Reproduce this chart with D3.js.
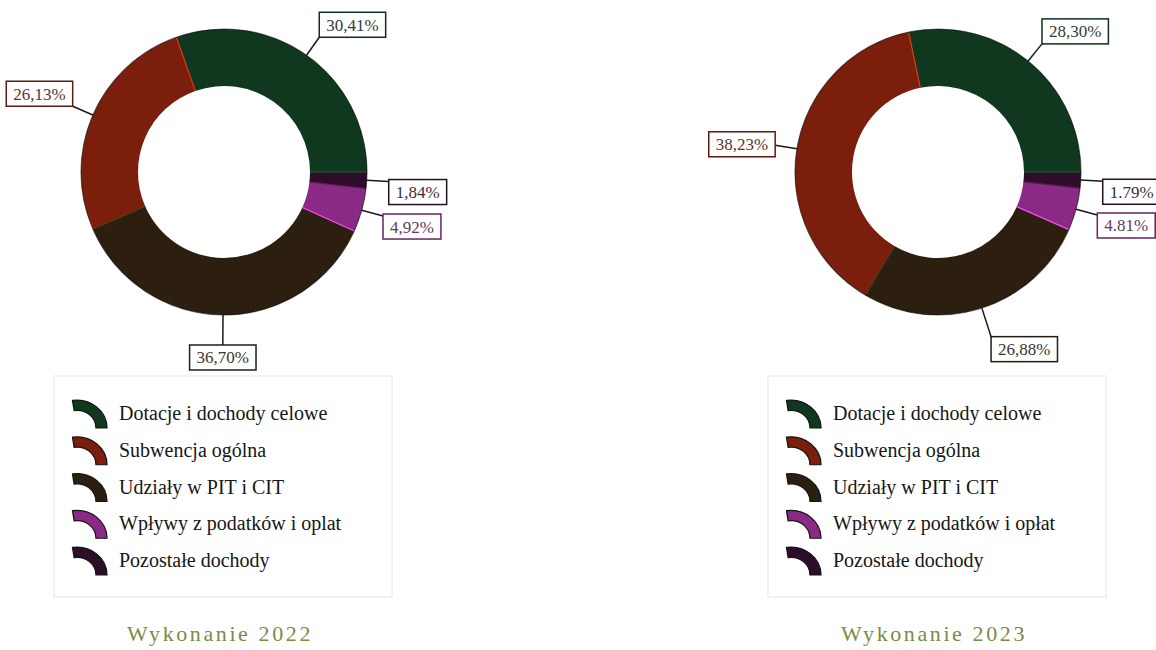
<!DOCTYPE html>
<html>
<head>
<meta charset="utf-8">
<script src="https://cdn.jsdelivr.net/npm/d3@7"></script>
<style>
  body { margin: 0; background: #fff; }
  svg { display: block; }
</style>
</head>
<body>
<div id="chart"></div>
<script>
// dane
var categories2022 = ["Dotacje i dochody celowe", "Subwencja ogólna", "Udziały w PIT i CIT", "Wpływy z podatków i oplat", "Pozostałe dochody"];
var categories2023 = ["Dotacje i dochody celowe", "Subwencja ogólna", "Udziały w PIT i CIT", "Wpływy z podatków i opłat", "Pozostałe dochody"];
var values2022 = [30.41, 26.13, 36.70, 4.92, 1.84];
var values2023 = [28.30, 38.23, 26.88, 4.81, 1.79];
var labels2022 = ["30,41%", "26,13%", "36,70%", "4,92%", "1,84%"];
var labels2023 = ["28,30%", "38,23%", "26,88%", "4.81%", "1.79%"];
var titles = ["Wykonanie 2022", "Wykonanie 2023"];
var colors = ["#10381f", "#7b1f0c", "#2d1f10", "#8b2a86", "#2e0d2b"];

var W = 1156, H = 650;
var cfg = { cy: 172, R: 143, r: 86, leaderR: 165, serif: "'Liberation Serif', 'Times New Roman', serif" };

var svg = d3.select("#chart").append("svg")
  .attr("width", W).attr("height", H);

var panels = [
  { cx: 224, cats: categories2022, vals: values2022, labels: labels2022, title: titles[0] },
  { cx: 938, cats: categories2023, vals: values2023, labels: labels2023, title: titles[1] }
];

// torty zaczynaja sie na godzinie 3 i ida przeciwnie do wskazowek zegara
var pie = d3.pie().sort(null)
  .startAngle(Math.PI / 2)
  .endAngle(Math.PI / 2 - 2 * Math.PI);

var arc = d3.arc().innerRadius(cfg.r).outerRadius(cfg.R);
// znaczek legendy: cwiartka pierscienia od 12 do 3
var swatchArc = d3.arc().innerRadius(19).outerRadius(30).startAngle(-0.15).endAngle(Math.PI / 2);

panels.forEach(function(p) {
  var g = svg.append("g").attr("transform", "translate(" + p.cx + "," + cfg.cy + ")");
  var arcs = pie(p.vals);

  g.selectAll("path.slice")
    .data(arcs)
    .enter()
    .append("path")
    .attr("class", "slice")
    .attr("d", arc)
    .attr("fill", function(d, i) { return colors[i]; });

  // jasne linie na granicach wycinkow
  g.selectAll("line.sep")
    .data(arcs)
    .enter()
    .append("line")
    .attr("x1", function(d) { return cfg.r * Math.sin(d.startAngle); })
    .attr("y1", function(d) { return -cfg.r * Math.cos(d.startAngle); })
    .attr("x2", function(d) { return cfg.R * Math.sin(d.startAngle); })
    .attr("y2", function(d) { return -cfg.R * Math.cos(d.startAngle); })
    .attr("stroke", function(d, i) { return d3.color(colors[i]).brighter(1.6); })
    .attr("stroke-width", 1.2);

  g.append("circle")
    .attr("r", cfg.R)
    .attr("fill", "none")
    .attr("stroke", "rgba(0,0,0,0.55)")
    .attr("stroke-width", 1.2);

  // etykiety z odnosnikami
  arcs.forEach(function(d, i) {
    var a = (d.startAngle + d.endAngle) / 2;
    var sx = Math.sin(a), sy = -Math.cos(a);
    var lr = sy > 0.9 ? cfg.leaderR + 8 : cfg.leaderR;
    var x1 = cfg.R * sx, y1 = cfg.R * sy;
    var x2 = lr * sx, y2 = lr * sy;

    g.append("line")
      .attr("x1", x1).attr("y1", y1).attr("x2", x2).attr("y2", y2)
      .attr("stroke", "#1a1a1a").attr("stroke-width", 1.5);

    var lab = g.append("g");
    var txt = lab.append("text")
      .attr("font-family", cfg.serif)
      .attr("font-size", "17px")
      .attr("fill", d3.interpolateRgb(colors[i], "#454545")(0.6))
      .text(p.labels[i]);
    var tw = txt.node().getComputedTextLength();
    var bw = tw + 14, bh = 25;

    var bx, by;
    if (Math.abs(sx) < 0.2) bx = x2 - bw / 2;
    else if (sx > 0) bx = x2;
    else bx = x2 - bw;
    if (sy < -0.3) by = y2 - bh;
    else if (sy > 0.3) by = y2;
    else if (sx > 0) by = y2 - 2;
    else by = y2 - bh / 2 - 1;

    lab.insert("rect", "text")
      .attr("x", bx).attr("y", by).attr("width", bw).attr("height", bh)
      .attr("fill", "#fff")
      .attr("stroke", d3.interpolateRgb(colors[i], "#111")(0.3))
      .attr("stroke-width", 1.5);
    txt.attr("x", bx + 7).attr("y", by + bh / 2 + 6);
  });

  // legenda
  var leg = svg.append("g").attr("transform", "translate(" + p.cx + ",0)");
  leg.append("rect")
    .attr("x", -170).attr("y", 376).attr("width", 338).attr("height", 221)
    .attr("fill", "none")
    .attr("stroke", "#e6e6e6")
    .attr("stroke-width", 1);

  var rowY = d3.scalePoint().domain(d3.range(p.cats.length)).range([413, 560]);

  var rows = leg.selectAll("g.row")
    .data(p.cats)
    .enter()
    .append("g")
    .attr("class", "row")
    .attr("transform", function(d, i) { return "translate(0," + rowY(i) + ")"; });

  rows.append("path")
    .attr("d", swatchArc)
    .attr("transform", "translate(-147,15) scale(1,0.93)")
    .attr("fill", function(d, i) { return colors[i]; })
    .attr("stroke", "#151515")
    .attr("stroke-width", 1.3);

  rows.append("text")
    .attr("x", -105)
    .attr("y", 7)
    .attr("font-family", cfg.serif)
    .attr("font-size", "20px")
    .attr("fill", "#161616")
    .text(function(d) { return d; });

  svg.append("text")
    .attr("x", p.cx - 4)
    .attr("y", 641)
    .attr("text-anchor", "middle")
    .attr("font-family", cfg.serif)
    .attr("font-size", "22px")
    .attr("letter-spacing", "2.6px")
    .attr("fill", "#7b8a45")
    .text(p.title);
});
</script>
</body>
</html>
